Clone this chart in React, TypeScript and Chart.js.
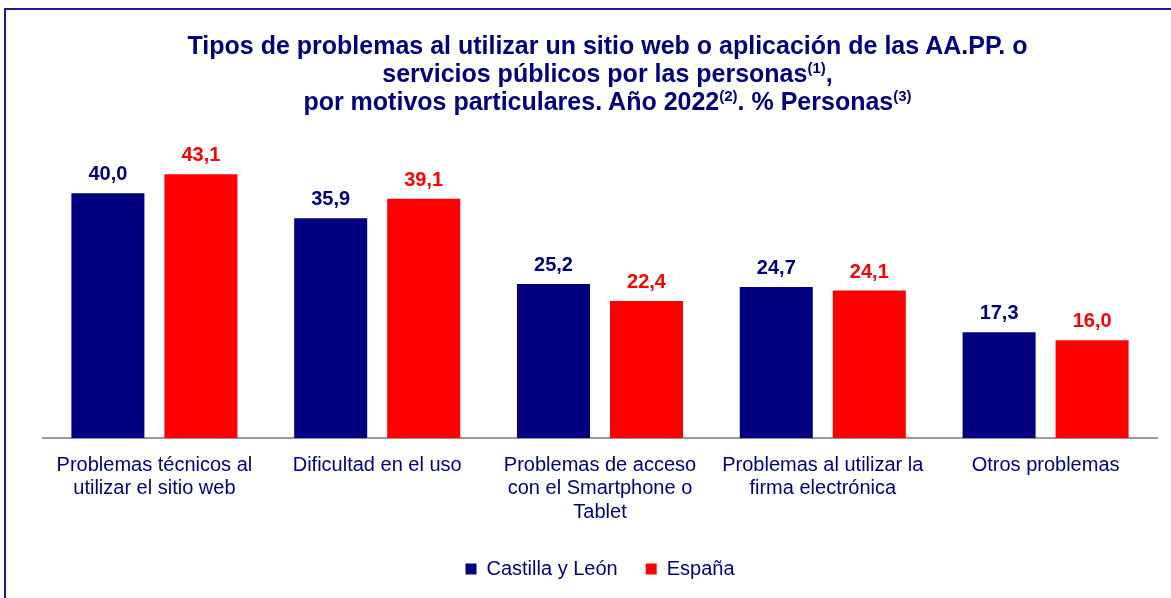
import React, { useEffect, useRef } from "react";
import { Chart, registerables } from "chart.js";

Chart.register(...registerables);

const categories: string[][] = [
  ["Problemas técnicos al", "utilizar el sitio web"],
  ["Dificultad en el uso"],
  ["Problemas de acceso", "con el Smartphone o", "Tablet"],
  ["Problemas al utilizar la", "firma electrónica"],
  ["Otros problemas"],
];
const castillaLeon: number[] = [40.0, 35.9, 25.2, 24.7, 17.3];
const espana: number[] = [43.1, 39.1, 22.4, 24.1, 16.0];
const seriesNames: string[] = ["Castilla y León", "España"];

const NAVY = "#000080";
const RED = "#FF0000";
const FONT = "'Liberation Sans', Arial, Helvetica, sans-serif";

const valueLabels = {
  id: "valueLabels",
  afterDatasetsDraw(chart: any) {
    const ctx = chart.ctx;
    ctx.save();
    ctx.font = `bold 20px ${FONT}`;
    ctx.textAlign = "center";
    ctx.textBaseline = "alphabetic";
    chart.data.datasets.forEach((ds: any, i: number) => {
      const meta = chart.getDatasetMeta(i);
      ctx.fillStyle = ds.labelColor;
      meta.data.forEach((el: any, j: number) => {
        const v = ds.data[j] as number;
        ctx.fillText(v.toFixed(1).replace(".", ","), el.x, el.y - 13);
      });
    });
    ctx.restore();
  },
};

export default function App() {
  const ref = useRef<HTMLCanvasElement>(null);
  useEffect(() => {
    if (!ref.current) return;
    const chart = new Chart(ref.current, {
      type: "bar",
      data: {
        labels: categories,
        datasets: [
          {
            label: seriesNames[0],
            data: castillaLeon,
            backgroundColor: NAVY,
            labelColor: NAVY,
            categoryPercentage: 0.835,
            barPercentage: 0.785,
          } as any,
          {
            label: seriesNames[1],
            data: espana,
            backgroundColor: RED,
            labelColor: RED,
            categoryPercentage: 0.835,
            barPercentage: 0.785,
          } as any,
        ],
      },
      options: {
        responsive: false,
        animation: false,
        layout: { padding: { left: 43, right: 14, top: 132, bottom: 9 } },
        plugins: {
          title: { display: false },
          tooltip: { enabled: false },
          legend: {
            position: "bottom",
            labels: {
              boxWidth: 11,
              boxHeight: 11,
              color: NAVY,
              font: { family: FONT, size: 20 },
              padding: 28,
            },
          },
        },
        scales: {
          x: {
            grid: { display: false },
            border: { display: true, color: "#9a9a9a", width: 2 },
            ticks: {
              color: NAVY,
              font: { family: FONT, size: 20, lineHeight: 1.18 },
              maxRotation: 0,
              autoSkip: false,
              padding: 7,
            },
          },
          y: {
            display: false,
            min: 0,
            max: 50,
          },
        },
      },
      plugins: [valueLabels],
    });
    return () => chart.destroy();
  }, []);

  return (
    <div
      style={{
        position: "fixed",
        left: 0,
        top: 0,
        width: 1171,
        height: 598,
        overflow: "hidden",
        background: "#fff",
      }}
    >
      <div
        style={{
          position: "absolute",
          left: 4,
          top: 8,
          width: 1200,
          height: 620,
          borderLeft: "2px solid #1a1a99",
          borderTop: "2px solid #1a1a99",
          boxSizing: "border-box",
        }}
      />
      <canvas
        ref={ref}
        width={1171}
        height={598}
        style={{ position: "absolute", left: 0, top: 0 }}
      />
      <div
        style={{
          position: "absolute",
          left: 100,
          width: 1015,
          top: 31,
          textAlign: "center",
          fontFamily: FONT,
          fontWeight: "bold",
          fontSize: 25,
          lineHeight: "28px",
          color: NAVY,
        }}
      >
        Tipos de problemas al utilizar un sitio web o aplicación de las AA.PP. o
        <br />
        servicios públicos por las personas
        <sup style={{ fontSize: 15, lineHeight: 0 }}>(1)</sup>,
        <br />
        por motivos particulares. Año 2022
        <sup style={{ fontSize: 15, lineHeight: 0 }}>(2)</sup>. % Personas
        <sup style={{ fontSize: 15, lineHeight: 0 }}>(3)</sup>
      </div>
    </div>
  );
}
